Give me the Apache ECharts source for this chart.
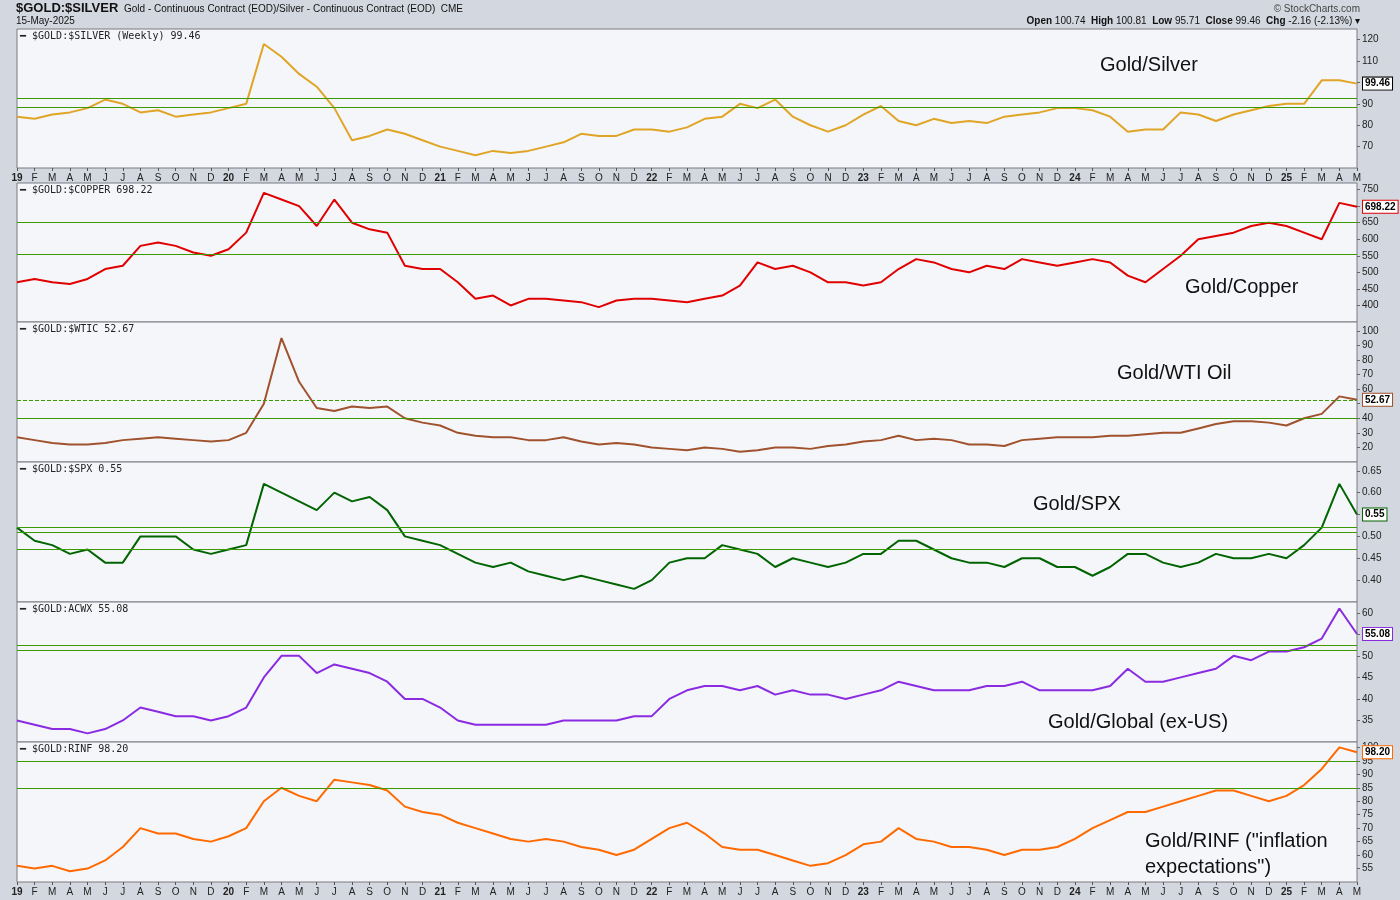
<!DOCTYPE html>
<html><head><meta charset="utf-8">
<script src="https://cdn.jsdelivr.net/npm/echarts@6/dist/echarts.min.js"></script>
<style>html,body{margin:0;padding:0;background:#d3d7df}#c{width:1400px;height:900px}</style>
</head><body><div id="c"></div>
<script>
const months = [];
for (let y = 2019; y <= 2025; y++) for (let m = 1; m <= 12; m++) { if (y === 2025 && m > 5) break; months.push(y + '-' + String(m).padStart(2, '0')); }
const monthLetters = ['J','F','M','A','M','J','J','A','S','O','N','D'];

const silver = [84,83,85,86,88,92,90,86,87,84,85,86, 88,90,118,112,104,98,88,73,75,78,76,73, 70,68,66,68,67,68,70,72,76,75,75,78, 78,77,79,83,84,90,88,92,84,80,77,80, 85,89,82,80,83,81,82,81,84,85,86,88, 88,87,84,77,78,78,86,85,82,85,87,89, 90,90,101,101,99.46];
const copper = [470,480,470,465,480,510,520,580,590,580,560,550, 570,620,740,720,700,640,720,650,630,620,520,510, 510,470,420,430,400,420,420,415,410,395,415,420, 420,415,410,420,430,460,530,510,520,500,470,470, 460,470,510,540,530,510,500,520,510,540,530,520, 530,540,530,490,470,510,550,600,610,620,640,650, 640,620,600,710,698.22];
const wtic = [27,25,23,22,22,23,25,26,27,26,25,24, 25,30,50,95,65,47,45,48,47,48,40,37, 35,30,28,27,27,25,25,27,24,22,23,22, 20,19,18,20,19,17,18,20,20,19,21,22, 24,25,28,25,26,25,22,22,21,25,26,27, 27,27,28,28,29,30,30,33,36,38,38,37, 35,40,43,55,52.67];
const spx = [0.52,0.49,0.48,0.46,0.47,0.44,0.44,0.50,0.50,0.50,0.47,0.46, 0.47,0.48,0.62,0.60,0.58,0.56,0.60,0.58,0.59,0.56,0.50,0.49, 0.48,0.46,0.44,0.43,0.44,0.42,0.41,0.40,0.41,0.40,0.39,0.38, 0.40,0.44,0.45,0.45,0.48,0.47,0.46,0.43,0.45,0.44,0.43,0.44, 0.46,0.46,0.49,0.49,0.47,0.45,0.44,0.44,0.43,0.45,0.45,0.43, 0.43,0.41,0.43,0.46,0.46,0.44,0.43,0.44,0.46,0.45,0.45,0.46, 0.45,0.48,0.52,0.62,0.55];
const acwx = [35,34,33,33,32,33,35,38,37,36,36,35, 36,38,45,50,50,46,48,47,46,44,40,40, 38,35,34,34,34,34,34,35,35,35,35,36, 36,40,42,43,43,42,43,41,42,41,41,40, 41,42,44,43,42,42,42,43,43,44,42,42, 42,42,43,47,44,44,45,46,47,50,49,51, 51,52,54,61,55.08];
const rinf = [56,55,56,54,55,58,63,70,68,68,66,65, 67,70,80,85,82,80,88,87,86,84,78,76, 75,72,70,68,66,65,66,65,63,62,60,62, 66,70,72,68,63,62,62,60,58,56,57,60, 64,65,70,66,65,63,63,62,60,62,62,63, 66,70,73,76,76,78,80,82,84,84,82,80, 82,86,92,100,98.2];

const panels = [
 {name:'$GOLD:$SILVER (Weekly) 99.46', data:silver, color:'#e0a526', min:60, max:125, interval:10, lines:[92.5,88.5], title:'Gold/Silver', tx:1100, ty:52, top:29, h:139, last:'99.46', border:'#000'},
 {name:'$GOLD:$COPPER 698.22', data:copper, color:'#e00000', min:350, max:770, interval:50, lines:[650,555], title:'Gold/Copper', tx:1185, ty:274, top:183, h:139, last:'698.22', border:'#e00000'},
 {name:'$GOLD:$WTIC 52.67', data:wtic, color:'#a0522d', min:10, max:106, interval:10, lines:[40], dashed:52.67, title:'Gold/WTI Oil', tx:1117, ty:360, top:322, h:140, last:'52.67', border:'#a0522d'},
 {name:'$GOLD:$SPX 0.55', data:spx, color:'#006400', min:0.35, max:0.67, interval:0.05, lines:[0.52,0.505,0.475], title:'Gold/SPX', tx:1033, ty:491, top:462, h:140, last:'0.55', border:'#006400'},
 {name:'$GOLD:ACWX 55.08', data:acwx, color:'#8a2be2', min:30, max:62.5, interval:5, lines:[52.5,51.2], title:'Gold/Global (ex-US)', tx:1048, ty:709, top:602, h:140, last:'55.08', border:'#8a2be2'},
 {name:'$GOLD:RINF 98.20', data:rinf, color:'#ff6a00', min:50, max:102, interval:5, lines:[95,85], title:'Gold/RINF ("inflation\nexpectations")', tx:1145, ty:828, top:742, h:140, last:'98.20', border:'#ff6a00'}
];

const grid=[], xAxis=[], yAxis=[], series=[], graphic=[];
panels.forEach((p,i)=>{
  grid.push({left:17,right:43,top:p.top,height:p.h,backgroundColor:'#f5f6fa',show:true,borderColor:'#7a7a80',borderWidth:1});
  const showLab = (i===0||i===5);
  xAxis.push({type:'category',gridIndex:i,data:months,boundaryGap:false,
    axisLine:{show:false},axisTick:{show:showLab,length:3,lineStyle:{color:'#555'}},
    splitLine:{show:false},
    axisLabel:{show:showLab,interval:0,fontSize:10,color:'#222',margin:5,
      formatter:(v)=>{const [y,m]=v.split('-');return m==='01'?'{b|'+y.slice(2)+'}':monthLetters[+m-1];},
      rich:{b:{fontWeight:'bold',fontSize:10,color:'#222'}}}});
  yAxis.push({type:'value',gridIndex:i,position:'right',min:p.min,max:p.max,interval:p.interval,
    axisLine:{show:false},axisTick:{show:true,length:3,lineStyle:{color:'#666'}},splitLine:{show:false},
    axisLabel:{fontSize:10,color:'#222',margin:5,showMinLabel:false,showMaxLabel:false,
      formatter:(v)=>p.interval<1?v.toFixed(2):String(Math.round(v))}});
  const md=p.lines.map(v=>({yAxis:v,lineStyle:{color:'#3a9a00',width:1,type:'solid'}}));
  if(p.dashed) md.push({yAxis:p.dashed,lineStyle:{color:'#3a9a00',width:1,type:'dashed'}});
  series.push({type:'line',xAxisIndex:i,yAxisIndex:i,data:p.data,symbol:'none',
    lineStyle:{color:p.color,width:2},itemStyle:{color:p.color},
    markLine:{silent:true,symbol:'none',label:{show:false},data:md},
    endLabel:{show:true,formatter:p.last,fontSize:10,fontWeight:'bold',color:'#000',
      backgroundColor:'#fff',borderColor:p.border,borderWidth:1,padding:[1,2],distance:6}});
  graphic.push({type:'text',left:20,top:p.top+2,style:{text:'━ '+p.name,fontSize:10,fontFamily:'DejaVu Sans Mono',fill:'#222'}});
  graphic.push({type:'text',left:p.tx,top:p.ty,style:{text:p.title,fontSize:20,fontFamily:'Liberation Sans',fill:'#111',lineHeight:26}});
});
graphic.push({type:'text',left:16,top:2,style:{text:'$GOLD:$SILVER',fontSize:13,fontWeight:'bold',fill:'#111',fontFamily:'Liberation Sans Narrow, Liberation Sans'}});
graphic.push({type:'text',left:124,top:4,style:{text:'Gold - Continuous Contract (EOD)/Silver - Continuous Contract (EOD)  CME',fontSize:10,fill:'#111',fontFamily:'Liberation Sans'}});
graphic.push({type:'text',left:16,top:16,style:{text:'15-May-2025',fontSize:10,fill:'#111',fontFamily:'Liberation Sans'}});
graphic.push({type:'text',right:40,top:4,style:{text:'© StockCharts.com',fontSize:10,fill:'#444',fontFamily:'Liberation Sans'}});
graphic.push({type:'text',right:40,top:16,style:{text:'{b|Open} 100.74  {b|High} 100.81  {b|Low} 95.71  {b|Close} 99.46  {b|Chg} -2.16 (-2.13%) ▾',fontSize:10,fill:'#111',fontFamily:'Liberation Sans',rich:{b:{fontWeight:'bold',fontSize:10}}}});

const chart=echarts.init(document.getElementById('c'));
chart.setOption({animation:false,backgroundColor:'#d3d7df',grid,xAxis,yAxis,series,graphic});
</script></body></html>
